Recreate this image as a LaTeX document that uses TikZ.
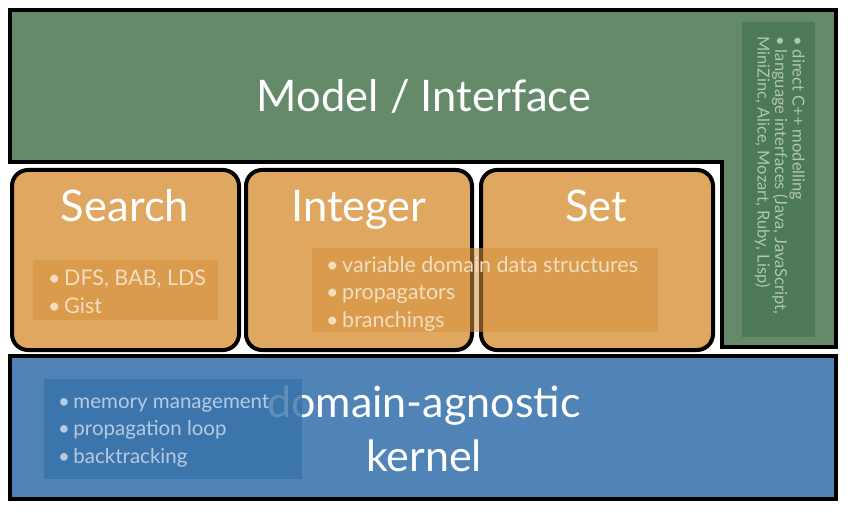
\documentclass[tikz,border=0pt]{standalone}
\usepackage{fontspec}
\setmainfont{Lato}
\definecolor{modelgreen}{RGB}{101,138,106}
\definecolor{modelgreendark}{RGB}{78,121,86}
\definecolor{modelgreentext}{RGB}{175,200,172}
\definecolor{boxorange}{RGB}{224,167,96}
\definecolor{listorange}{RGB}{214,146,62}
\definecolor{orangetext}{RGB}{242,222,192}
\definecolor{kernelblue}{RGB}{80,132,182}
\definecolor{kernelbluedark}{RGB}{56,114,170}
\definecolor{bluetext}{RGB}{182,202,226}
\begin{document}
\begin{tikzpicture}[x=1pt,y=-1pt,
		layer/.style={draw=black,line width=3.5pt},
		module/.style={draw=black,line width=4pt,rounded corners=16pt,fill=boxorange},
		title/.style={text=white,anchor=base,inner sep=0pt,font=\fontsize{43.5}{44}\selectfont},
		listbox/.style={fill opacity=0.55,draw=none},
		listtext/.style={align=left,anchor=base west,inner sep=0pt,font=\fontsize{21.5}{27.5}\selectfont}]
	\useasboundingbox (0,0) rectangle (848,513);
	% model / interface layer
	\draw[layer,fill=modelgreen] (10,10) -- (836,10) -- (836,347) -- (722,347) -- (722,162) -- (10,162) -- cycle;
	\node[title] (model) at (424,112) {Model / Interface};
	\fill[modelgreendark] (742,22) rectangle (815,337);
	\node[rotate=-90,anchor=north west,inner sep=0pt,text=modelgreentext,align=left,font=\fontsize{16.5}{17.5}\selectfont] (modellist) at (805,36)
		{\textbullet\ direct C++ modelling\\
		\textbullet\ language interfaces (Java, JavaScript,\\
		MiniZinc, Alice, Mozart, Ruby, Lisp)};
	% modules
	\draw[module] (12,170) rectangle (239,350);
	\draw[module] (246,170) rectangle (472,350);
	\draw[module] (481,170) rectangle (713,350);
	\node[title] (search) at (125,222) {Search};
	\node[title] (integer) at (359,222) {Integer};
	\node[title] (set) at (596,222) {Set};
	% lists (anchored at the baseline of their last line)
	\fill[listbox,fill=listorange] (33,260) rectangle (218,320);
	\node[listtext,text=orangetext,font=\fontsize{21.5}{28}\selectfont] (searchlist) at (48,313) {\textbullet\,DFS, BAB, LDS\\\textbullet\,Gist};
	\fill[listbox,fill=listorange] (312,248) rectangle (658,332);
	\node[listtext,text=orangetext] (varlist) at (326,327) {\textbullet\,variable domain data structures\\\textbullet\,propagators\\\textbullet\,branchings};
	% kernel layer
	\draw[layer,fill=kernelblue] (10,356) rectangle (836,499);
	\node[title,align=center,anchor=north,font=\fontsize{43}{54}\selectfont] (kernel) at (424,386) {domain-agnostic\\kernel};
	\fill[listbox,fill=kernelbluedark,fill opacity=0.8] (44,379) rectangle (302,479);
	\node[listtext,text=bluetext,font=\fontsize{20.5}{27.5}\selectfont] (kernellist) at (58,463) {\textbullet\,memory management\\\textbullet\,propagation loop\\\textbullet\,backtracking};
\end{tikzpicture}
\end{document}
